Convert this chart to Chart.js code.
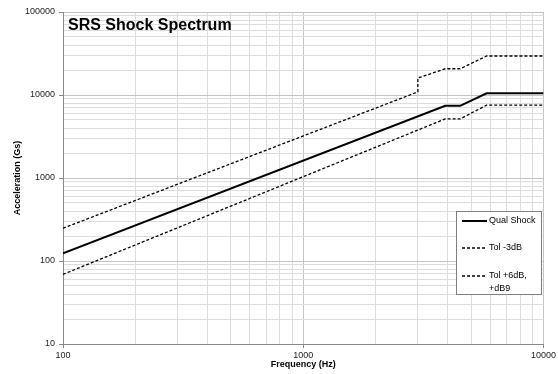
<!DOCTYPE html>
<html>
<head>
<meta charset="utf-8">
<script src="https://cdn.jsdelivr.net/npm/chart.js@4"></script>
<style>
  html, body { margin: 0; padding: 0; background: #fff; }
</style>
</head>
<body>
<canvas id="srsChart" width="558" height="374"></canvas>
<script>
// Values
const seriesNames = ["Qual Shock", "Tol -3dB", "Tol +6dB,\n+dB9"];

const qualFreq = [100, 3900, 4500, 5800, 10000];
const qualAccel = [124, 7400, 7400, 10500, 10500];

const lowFreq = [100, 3900, 4500, 5800, 10000];
const lowAccel = [69, 5150, 5150, 7550, 7550];

const highFreq = [100, 3000, 3000, 3900, 4500, 5800, 10000];
const highAccel = [248, 10900, 16000, 20700, 20700, 29500, 29500];

// Labelled decades; minor grid lines at 2..9 of each decade
const freqDecades = [100, 1000, 10000];
const accelDecades = [10, 100, 1000, 10000, 100000];

function toPoints(xs, ys) {
  return xs.map((x, i) => ({ x: x, y: ys[i] }));
}

function logTicks(decades) {
  const out = [];
  decades.forEach((d, i) => {
    out.push(d);
    if (i < decades.length - 1) {
      for (let m = 2; m <= 9; m++) out.push(d * m);
    }
  });
  return out.map(v => ({ value: v }));
}

function isMajor(v) {
  const l = Math.log10(v);
  return Math.abs(l - Math.round(l)) < 1e-9;
}

const FONT = "'Liberation Sans', Arial, sans-serif";
Chart.defaults.font.family = FONT;
Chart.defaults.color = "#222";

// title inside the plot + boxed legend, drawn like the original
const overlay = {
  id: "overlay",
  afterDraw(chart) {
    const c = chart.ctx;
    c.save();
    c.fillStyle = "#000";
    c.font = "bold 16px " + FONT;
    c.textBaseline = "alphabetic";
    c.fillText("SRS Shock Spectrum", 68, 30);

    c.fillStyle = "#fff";
    c.fillRect(456.5, 211.5, 85, 83);
    c.strokeStyle = "#808080";
    c.lineWidth = 1;
    c.strokeRect(456.5, 211.5, 85, 83);

    const rows = [221, 248, 276];
    chart.data.datasets.forEach((ds, i) => {
      const y = rows[i];
      c.beginPath();
      c.setLineDash(ds.borderDash || []);
      c.lineWidth = ds.borderWidth;
      c.strokeStyle = ds.borderColor;
      c.moveTo(462, y);
      c.lineTo(487, y);
      c.stroke();
      c.setLineDash([]);
      c.fillStyle = "#000";
      c.font = "9px " + FONT;
      c.textBaseline = "middle";
      ds.label.split("\n").forEach((line, j) => {
        c.fillText(line, 489, y + j * 12.5);
      });
    });
    c.restore();
  }
};

const gridColor = ctx => (ctx.tick && isMajor(ctx.tick.value)) ? "#c4c4c4" : "#dddddd";
const tickColor = ctx => (ctx.tick && isMajor(ctx.tick.value)) ? "#888" : "rgba(0,0,0,0)";

new Chart(document.getElementById("srsChart"), {
  type: "line",
  data: {
    datasets: [
      {
        label: seriesNames[0],
        data: toPoints(qualFreq, qualAccel),
        borderColor: "#000",
        borderWidth: 2,
        pointRadius: 0
      },
      {
        label: seriesNames[1],
        data: toPoints(lowFreq, lowAccel),
        borderColor: "#000",
        borderWidth: 1.3,
        borderDash: [3, 2],
        pointRadius: 0
      },
      {
        label: seriesNames[2],
        data: toPoints(highFreq, highAccel),
        borderColor: "#000",
        borderWidth: 1.3,
        borderDash: [3, 2],
        pointRadius: 0
      }
    ]
  },
  options: {
    responsive: false,
    animation: false,
    layout: { padding: { left: 0, right: 14, top: 12, bottom: 0 } },
    plugins: {
      legend: { display: false },
      tooltip: { enabled: false }
    },
    scales: {
      x: {
        type: "logarithmic",
        min: 100,
        max: 10000,
        afterBuildTicks: s => { s.ticks = logTicks(freqDecades); },
        afterFit: s => { s.height = 30; },
        ticks: {
          autoSkip: false,
          maxRotation: 0,
          padding: 2,
          font: { size: 9 },
          callback: v => isMajor(v) ? String(v) : ""
        },
        grid: { color: gridColor, tickColor: tickColor, tickLength: 4 },
        border: { color: "#888" },
        title: {
          display: true,
          text: "Frequency (Hz)",
          font: { size: 9, weight: "bold" },
          color: "#000",
          padding: { top: 0, bottom: 4.5 }
        }
      },
      y: {
        type: "logarithmic",
        min: 10,
        max: 100000,
        afterBuildTicks: s => { s.ticks = logTicks(accelDecades); },
        afterFit: s => { s.width = 63; },
        ticks: {
          autoSkip: false,
          padding: 4,
          font: { size: 9 },
          callback: v => isMajor(v) ? String(v) : ""
        },
        grid: { color: gridColor, tickColor: tickColor, tickLength: 4 },
        border: { color: "#888" },
        title: {
          display: true,
          text: "Acceleration (Gs)",
          font: { size: 9, weight: "bold" },
          color: "#000",
          padding: { top: 12.5, bottom: 0 }
        }
      }
    }
  },
  plugins: [overlay]
});
</script>
</body>
</html>
